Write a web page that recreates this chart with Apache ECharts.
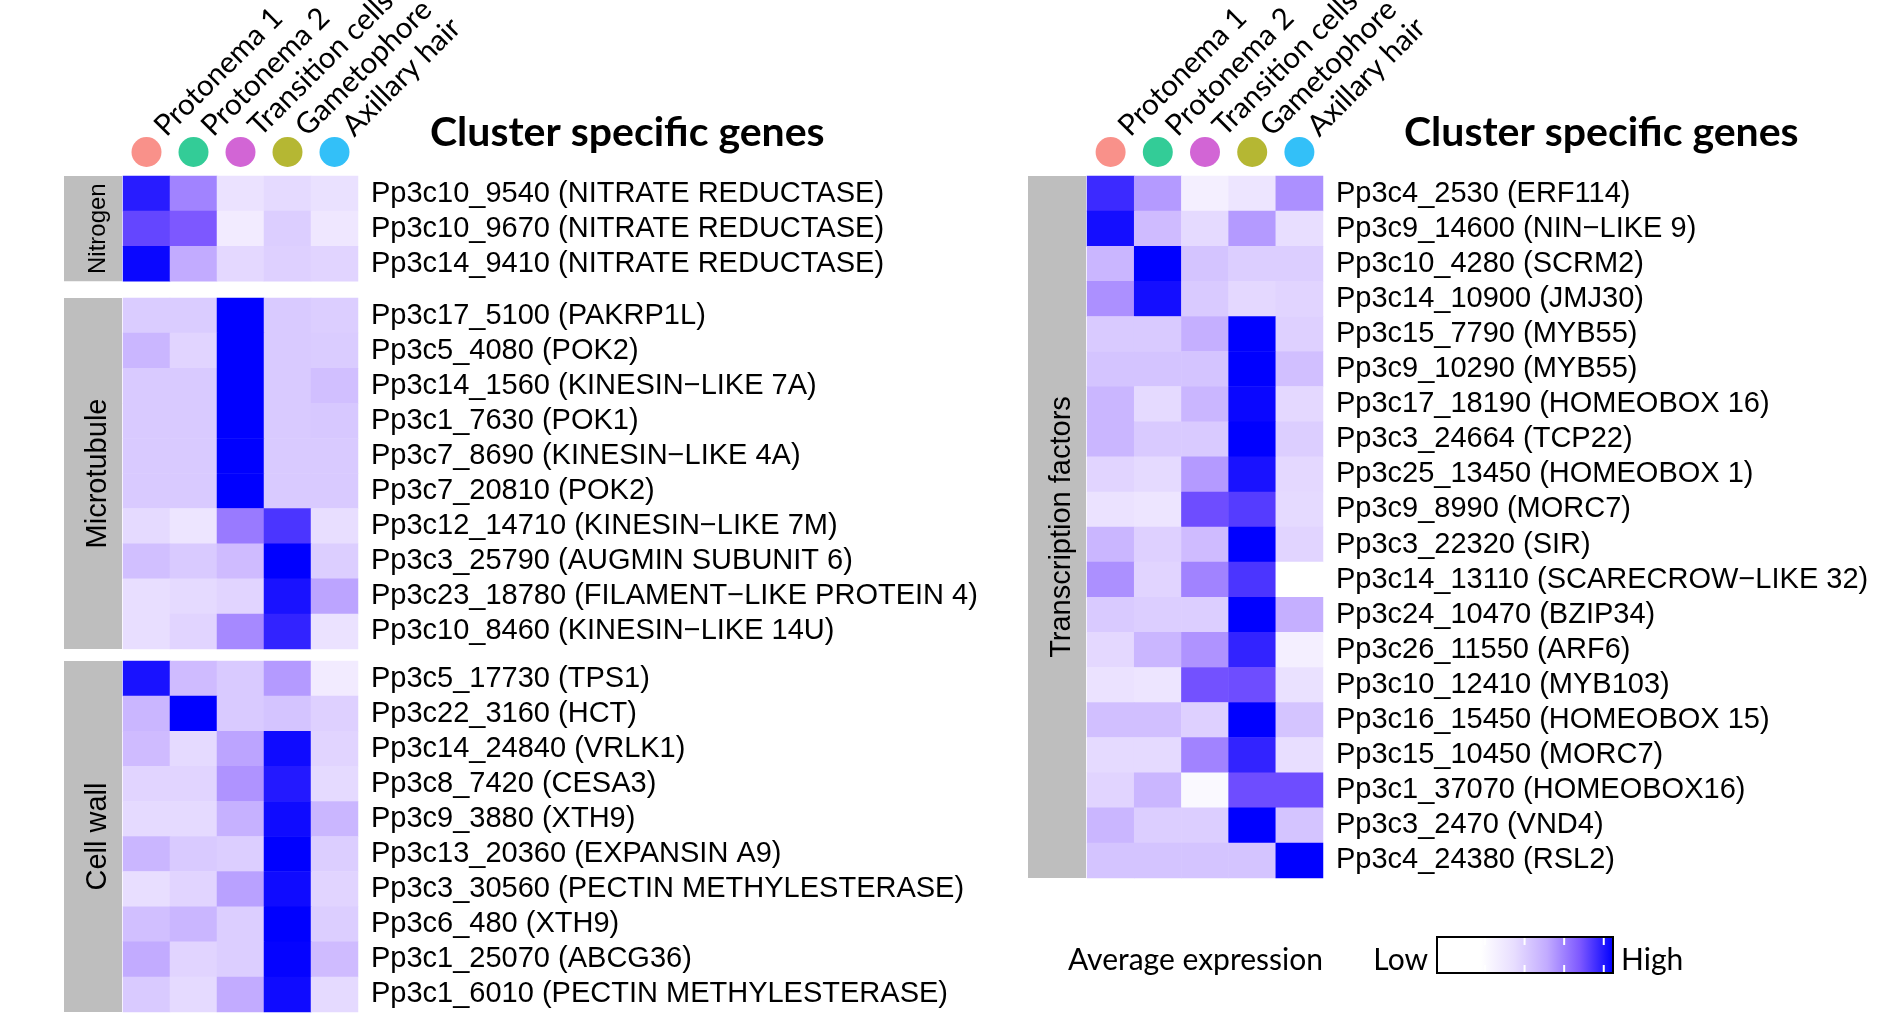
<!DOCTYPE html>
<html>
<head>
<meta charset="utf-8">
<script src="https://cdn.jsdelivr.net/npm/echarts@6/dist/echarts.min.js"></script>
<style>
  html, body { margin: 0; padding: 0; background: #ffffff; }
  #chart { width: 1879px; height: 1022px; }
</style>
</head>
<body>
<div id="chart"></div>
<script>
// ---------------- data ----------------
const columns = ['Protonema 1', 'Protonema 2', 'Transition cells', 'Gametophore', 'Axillary hair'];
const clusterColors = ['#F8766D', '#00BF7D', '#C73FCB', '#A3A500', '#00B0F6'];

const nitrogenGenes = [
  'Pp3c10_9540 (NITRATE REDUCTASE)',
  'Pp3c10_9670 (NITRATE REDUCTASE)',
  'Pp3c14_9410 (NITRATE REDUCTASE)'
];
const nitrogenValues = [
  [0.92, 0.62, 0.22, 0.27, 0.23],
  [0.80, 0.75, 0.15, 0.33, 0.18],
  [0.98, 0.50, 0.28, 0.32, 0.30]
];

const microtubuleGenes = [
  'Pp3c17_5100 (PAKRP1L)',
  'Pp3c5_4080 (POK2)',
  'Pp3c14_1560 (KINESIN\u2212LIKE 7A)',
  'Pp3c1_7630 (POK1)',
  'Pp3c7_8690 (KINESIN\u2212LIKE 4A)',
  'Pp3c7_20810 (POK2)',
  'Pp3c12_14710 (KINESIN\u2212LIKE 7M)',
  'Pp3c3_25790 (AUGMIN SUBUNIT 6)',
  'Pp3c23_18780 (FILAMENT\u2212LIKE PROTEIN 4)',
  'Pp3c10_8460 (KINESIN\u2212LIKE 14U)'
];
const microtubuleValues = [
  [0.34, 0.34, 1.00, 0.35, 0.33],
  [0.45, 0.30, 1.00, 0.35, 0.34],
  [0.35, 0.35, 1.00, 0.35, 0.40],
  [0.35, 0.35, 1.00, 0.35, 0.36],
  [0.35, 0.35, 1.00, 0.35, 0.35],
  [0.35, 0.35, 1.00, 0.35, 0.35],
  [0.27, 0.20, 0.65, 0.85, 0.25],
  [0.40, 0.35, 0.42, 1.00, 0.33],
  [0.25, 0.27, 0.30, 0.95, 0.52],
  [0.25, 0.30, 0.60, 0.90, 0.22]
];

const cellWallGenes = [
  'Pp3c5_17730 (TPS1)',
  'Pp3c22_3160 (HCT)',
  'Pp3c14_24840 (VRLK1)',
  'Pp3c8_7420 (CESA3)',
  'Pp3c9_3880 (XTH9)',
  'Pp3c13_20360 (EXPANSIN A9)',
  'Pp3c3_30560 (PECTIN METHYLESTERASE)',
  'Pp3c6_480 (XTH9)',
  'Pp3c1_25070 (ABCG36)',
  'Pp3c1_6010 (PECTIN METHYLESTERASE)'
];
const cellWallValues = [
  [0.95, 0.42, 0.35, 0.55, 0.15],
  [0.45, 1.00, 0.35, 0.38, 0.32],
  [0.42, 0.27, 0.52, 0.97, 0.30],
  [0.30, 0.30, 0.57, 0.93, 0.27],
  [0.27, 0.27, 0.47, 0.97, 0.45],
  [0.45, 0.35, 0.33, 1.00, 0.33],
  [0.25, 0.30, 0.53, 0.97, 0.30],
  [0.40, 0.45, 0.33, 1.00, 0.33],
  [0.50, 0.30, 0.33, 0.99, 0.42],
  [0.35, 0.27, 0.50, 0.97, 0.27]
];

const tfGenes = [
  'Pp3c4_2530 (ERF114)',
  'Pp3c9_14600 (NIN\u2212LIKE 9)',
  'Pp3c10_4280 (SCRM2)',
  'Pp3c14_10900 (JMJ30)',
  'Pp3c15_7790 (MYB55)',
  'Pp3c9_10290 (MYB55)',
  'Pp3c17_18190 (HOMEOBOX 16)',
  'Pp3c3_24664 (TCP22)',
  'Pp3c25_13450 (HOMEOBOX 1)',
  'Pp3c9_8990 (MORC7)',
  'Pp3c3_22320 (SIR)',
  'Pp3c14_13110 (SCARECROW\u2212LIKE 32)',
  'Pp3c24_10470 (BZIP34)',
  'Pp3c26_11550 (ARF6)',
  'Pp3c10_12410 (MYB103)',
  'Pp3c16_15450 (HOMEOBOX 15)',
  'Pp3c15_10450 (MORC7)',
  'Pp3c1_37070 (HOMEOBOX16)',
  'Pp3c3_2470 (VND4)',
  'Pp3c4_24380 (RSL2)'
];
const tfValues = [
  [0.88, 0.55, 0.12, 0.20, 0.58],
  [0.96, 0.42, 0.27, 0.55, 0.25],
  [0.45, 1.00, 0.38, 0.33, 0.33],
  [0.58, 0.96, 0.35, 0.28, 0.30],
  [0.35, 0.35, 0.48, 1.00, 0.32],
  [0.38, 0.38, 0.38, 1.00, 0.40],
  [0.45, 0.27, 0.45, 0.98, 0.28],
  [0.45, 0.35, 0.35, 1.00, 0.33],
  [0.30, 0.27, 0.55, 0.95, 0.28],
  [0.22, 0.20, 0.78, 0.83, 0.27],
  [0.45, 0.32, 0.42, 1.00, 0.30],
  [0.58, 0.30, 0.62, 0.85, 0.00],
  [0.35, 0.33, 0.33, 1.00, 0.48],
  [0.28, 0.45, 0.57, 0.90, 0.12],
  [0.22, 0.20, 0.77, 0.78, 0.23],
  [0.40, 0.40, 0.32, 1.00, 0.38],
  [0.27, 0.27, 0.62, 0.90, 0.25],
  [0.30, 0.45, 0.05, 0.78, 0.78],
  [0.45, 0.33, 0.33, 1.00, 0.38],
  [0.38, 0.38, 0.38, 0.38, 1.00]
];

const groupNames = ['Nitrogen', 'Microtubule', 'Cell wall', 'Transcription factors'];
const titleText = 'Cluster specific genes';
const legendTitle = 'Average expression';
const legendLow = 'Low';
const legendHigh = 'High';
const legendTicks = [0.03, 0.33, 0.63, 0.93];

// ---------------- colour scale ----------------
const SCALE_MIN = -1 / 3, SCALE_MAX = 1;
const colorStops = [
  [-1 / 3, '#ffffff'], [0, '#ffffff'], [0.25, '#e8deff'],
  [0.5, '#c2abff'], [0.75, '#7d58ff'], [1, '#0000ff']
];
function hex2rgb(h) { return [parseInt(h.slice(1, 3), 16), parseInt(h.slice(3, 5), 16), parseInt(h.slice(5, 7), 16)]; }
function colorAt(v) {
  for (let i = 0; i < colorStops.length - 1; i++) {
    const [a, ca] = colorStops[i], [b, cb] = colorStops[i + 1];
    if (v <= b + 1e-9) {
      const t = b === a ? 0 : Math.max(0, (v - a) / (b - a));
      const x = hex2rgb(ca), y = hex2rgb(cb);
      return 'rgb(' + x.map((c, k) => Math.round(c + (y[k] - c) * t)).join(',') + ')';
    }
  }
  return colorStops[colorStops.length - 1][1];
}
const palette = [];
for (let i = 0; i <= 64; i++) palette.push(colorAt(SCALE_MIN + (SCALE_MAX - SCALE_MIN) * i / 64));

// ---------------- layout ----------------
const ROW = 35.1;
const LEFT_X = 123, LEFT_W = 235;
const RIGHT_X = 1087, RIGHT_W = 236;
const blocks = [
  { genes: nitrogenGenes, values: nitrogenValues, left: LEFT_X, width: LEFT_W, top: 176, name: groupNames[0], font: 24 },
  { genes: microtubuleGenes, values: microtubuleValues, left: LEFT_X, width: LEFT_W, top: 298, name: groupNames[1], font: 29 },
  { genes: cellWallGenes, values: cellWallValues, left: LEFT_X, width: LEFT_W, top: 661, name: groupNames[2], font: 29 },
  { genes: tfGenes, values: tfValues, left: RIGHT_X, width: RIGHT_W, top: 176, name: groupNames[3], font: 29 }
];
const BAR_W = 58, BAR_GAP = 1;
const CIRCLE_TOP = 137, CIRCLE_H = 30;
const LABEL_DX = 13, LABEL_DY = 5;

const grids = [], xAxes = [], yAxes = [], series = [], graphics = [];
function toCells(values) {
  const out = [];
  values.forEach((row, r) => row.forEach((v, c) => out.push([c, r, v])));
  return out;
}

blocks.forEach((b, i) => {
  const h = ROW * b.genes.length;
  grids.push({ left: b.left, top: b.top, width: b.width, height: h, outerBoundsMode: 'none' });
  xAxes.push({ type: 'category', gridIndex: i, data: columns, show: false });
  yAxes.push({
    type: 'category', gridIndex: i, data: b.genes, inverse: true, position: 'right',
    axisLine: { show: false }, axisTick: { show: false }, splitLine: { show: false },
    axisLabel: { interval: 0, margin: 13, fontSize: 29, fontFamily: '"Liberation Sans", Arial, sans-serif', color: '#000' }
  });
  series.push({
    type: 'heatmap', xAxisIndex: i, yAxisIndex: i, data: toCells(b.values),
    itemStyle: { borderWidth: 0 }, emphasis: { disabled: true }
  });
  const bx = b.left - BAR_GAP - BAR_W;
  graphics.push({ type: 'rect', shape: { x: bx, y: b.top, width: BAR_W, height: h }, style: { fill: '#bebebe' }, silent: true });
  graphics.push({
    type: 'text', x: bx + BAR_W / 2 + 5, y: b.top + h / 2, rotation: Math.PI / 2,
    style: { text: b.name, font: b.font + 'px "Liberation Sans", Arial, sans-serif', fill: '#000',
      textAlign: 'center', textVerticalAlign: 'middle', align: 'center', verticalAlign: 'middle' }, silent: true
  });
});

// circle rows (scatter) and rotated column labels (top axis of a companion grid)
[LEFT_X, RIGHT_X].forEach((lx, k) => {
  const w = k === 0 ? LEFT_W : RIGHT_W;
  const gi = grids.length;
  grids.push({ left: lx, top: CIRCLE_TOP, width: w, height: CIRCLE_H, outerBoundsMode: 'none' });
  xAxes.push({ type: 'category', gridIndex: gi, data: columns, show: false });
  yAxes.push({ type: 'category', gridIndex: gi, data: ['cluster'], show: false });
  series.push({
    type: 'scatter', xAxisIndex: gi, yAxisIndex: gi, symbolSize: 30, silent: true,
    data: columns.map((c, j) => ({ value: [j, 0], itemStyle: { color: clusterColors[j] } }))
  });
  const li = grids.length;
  grids.push({ left: lx + LABEL_DX, top: CIRCLE_TOP + LABEL_DY, width: w, height: CIRCLE_H, outerBoundsMode: 'none' });
  xAxes.push({
    type: 'category', gridIndex: li, data: columns, position: 'top',
    axisLine: { show: false, onZero: false }, axisTick: { show: false }, splitLine: { show: false },
    axisLabel: { interval: 0, rotate: -45, align: 'left', verticalAlign: 'middle', margin: 11,
      fontSize: 29.5, fontFamily: 'Lato, sans-serif', color: '#000' }
  });
  yAxes.push({ type: 'category', gridIndex: li, data: ['label'], show: false });
});

// titles
[{ x: 430 }, { x: 1404 }].forEach(t => {
  graphics.push({
    type: 'text', x: t.x, y: 133,
    style: { text: titleText, font: 'bold 41px Lato, sans-serif', fill: '#000',
      textAlign: 'left', textVerticalAlign: 'middle', align: 'left', verticalAlign: 'middle' }, silent: true
  });
});

// legend
const LG = { x: 1437, y: 937, w: 176, h: 36 };
const frac = v => (v - SCALE_MIN) / (SCALE_MAX - SCALE_MIN);
graphics.push({
  type: 'rect', shape: { x: LG.x, y: LG.y, width: LG.w, height: LG.h },
  style: { fill: { type: 'linear', x: 0, y: 0, x2: 1, y2: 0,
    colorStops: colorStops.map(s => ({ offset: frac(s[0]), color: s[1] })) } }, silent: true
});
legendTicks.forEach(t => {
  const tx = LG.x + LG.w * frac(t);
  graphics.push({ type: 'line', shape: { x1: tx, y1: LG.y, x2: tx, y2: LG.y + 8 }, style: { stroke: '#fff', lineWidth: 2 }, silent: true });
  graphics.push({ type: 'line', shape: { x1: tx, y1: LG.y + LG.h - 8, x2: tx, y2: LG.y + LG.h }, style: { stroke: '#fff', lineWidth: 2 }, silent: true });
});
graphics.push({
  type: 'rect', shape: { x: LG.x, y: LG.y, width: LG.w, height: LG.h },
  style: { fill: 'none', stroke: '#000', lineWidth: 2 }, silent: true
});
[{ t: legendTitle, x: 1068, a: 'left' }, { t: legendLow, x: LG.x - 9, a: 'right' }, { t: legendHigh, x: LG.x + LG.w + 8, a: 'left' }].forEach(o => {
  graphics.push({
    type: 'text', x: o.x, y: LG.y + LG.h / 2 + 5,
    style: { text: o.t, font: '30px Lato, sans-serif', fill: '#000',
      textAlign: o.a, textVerticalAlign: 'middle', align: o.a, verticalAlign: 'middle' }, silent: true
  });
});

const chart = echarts.init(document.getElementById('chart'), null, { renderer: 'canvas' });
chart.setOption({
  backgroundColor: '#ffffff',
  animation: false,
  grid: grids,
  xAxis: xAxes,
  yAxis: yAxes,
  visualMap: {
    show: false, type: 'continuous', min: SCALE_MIN, max: SCALE_MAX, dimension: 2,
    seriesIndex: [0, 1, 2, 3], inRange: { color: palette }
  },
  series: series,
  graphic: { elements: graphics }
});
</script>
</body>
</html>
